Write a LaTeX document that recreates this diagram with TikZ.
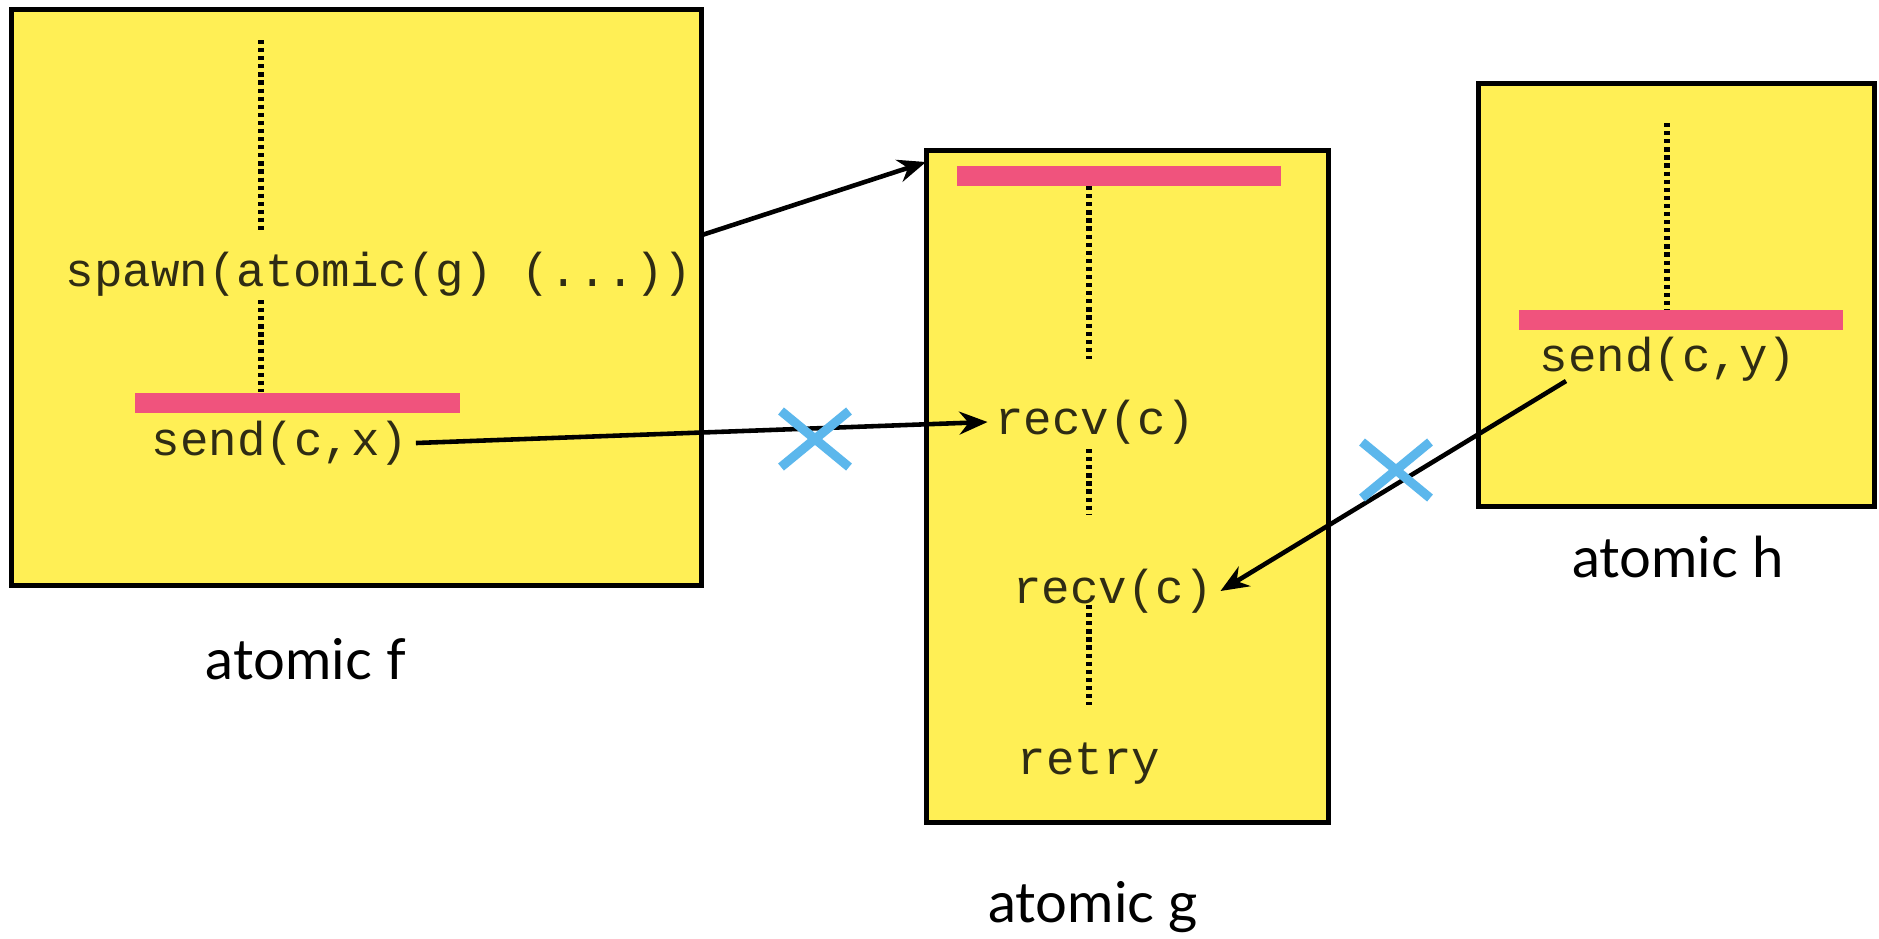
\documentclass[tikz,border=0pt]{standalone}
\usepackage{fontspec}
\setmonofont{Liberation Mono}
\setsansfont{Lato}
\usetikzlibrary{arrows.meta}

\definecolor{stickyyellow}{HTML}{FFEF55}
\definecolor{commitpink}{HTML}{F0537D}
\definecolor{crossblue}{HTML}{5CB7EC}
\definecolor{codeink}{HTML}{2F2C14}

\tikzset{
    atombox/.style={draw, line width=1.4pt, fill=stickyyellow, inner sep=0pt, outer sep=0pt},
    code/.style={font=\ttfamily\fontsize{13.5}{15}\selectfont, text=codeink, inner sep=2pt},
    caption/.style={font=\sffamily\fontsize{16}{19}\selectfont},
    commit/.style={commitpink, line width=5.7pt},
    thread/.style={line width=1.5pt, dash pattern=on 1.2pt off 1.1pt},
    msg/.style={line width=1.3pt, -{Stealth[length=8pt,width=6.5pt]}},
    blocked/.style={crossblue, line width=2.6pt},
}

\begin{document}
\begin{tikzpicture}[x=0.01cm, y=-0.01cm]
        \useasboundingbox (0,0) rectangle (1879,938);
        % the three atomic blocks
        \node[atombox, minimum width=6.89cm, minimum height=5.75cm] (f) at (356.5,297.5) {};
        \node[atombox, minimum width=4.01cm, minimum height=6.71cm] (g) at (1127.5,486.5) {};
        \node[atombox, minimum width=3.95cm, minimum height=4.22cm] (h) at (1676.5,295) {};
        \node[caption] (capf) at (306,659) {atomic f};
        \node[caption] (capg) at (1093,907) {atomic g};
        \node[caption] (caph) at (1678,557) {atomic h};
        % thread lines
        \draw[thread] (261,40) -- (261,234);
        \draw[thread] (261,300) -- (261,392);
        \draw[thread] (1089,186) -- (1089,359);
        \draw[thread] (1089,449) -- (1089,515);
        \draw[thread] (1089,605) -- (1089,705);
        \draw[thread] (1667,123) -- (1667,332);
        % commit points
        \draw[commit] (135,403) -- (460,403);
        \draw[commit] (957,176) -- (1281,176);
        \draw[commit] (1519,320) -- (1843,320);
        % code
        \node[code] (spawn) at (379,274) {spawn(atomic(g) (...))};
        \node[code] (sendx) at (280,443) {send(c,x)};
        \node[code] (recva) at (1095,422) {recv(c)};
        \node[code] (recvb) at (1113,591) {recv(c)};
        \node[code] (retry) at (1089,764) {retry};
        \node[code] (sendy) at (1668,359) {send(c,y)};
        % messages
        \coordinate (spawnout) at (702,235);
        \coordinate (spawnin) at (926,162);
        \coordinate (sendyout) at (1566,381);
        \draw[msg] (spawnout) -- (spawnin);
        \draw[msg] (sendx.east) -- (recva.west);
        \draw[msg] (sendyout) -- (recvb.east);
        \foreach \cx/\cy in {815/439,1396/470} {
            \draw[blocked] (\cx-34,\cy-28) -- (\cx+34,\cy+28) (\cx-34,\cy+28) -- (\cx+34,\cy-28);
        }
    \end{tikzpicture}
\end{document}
